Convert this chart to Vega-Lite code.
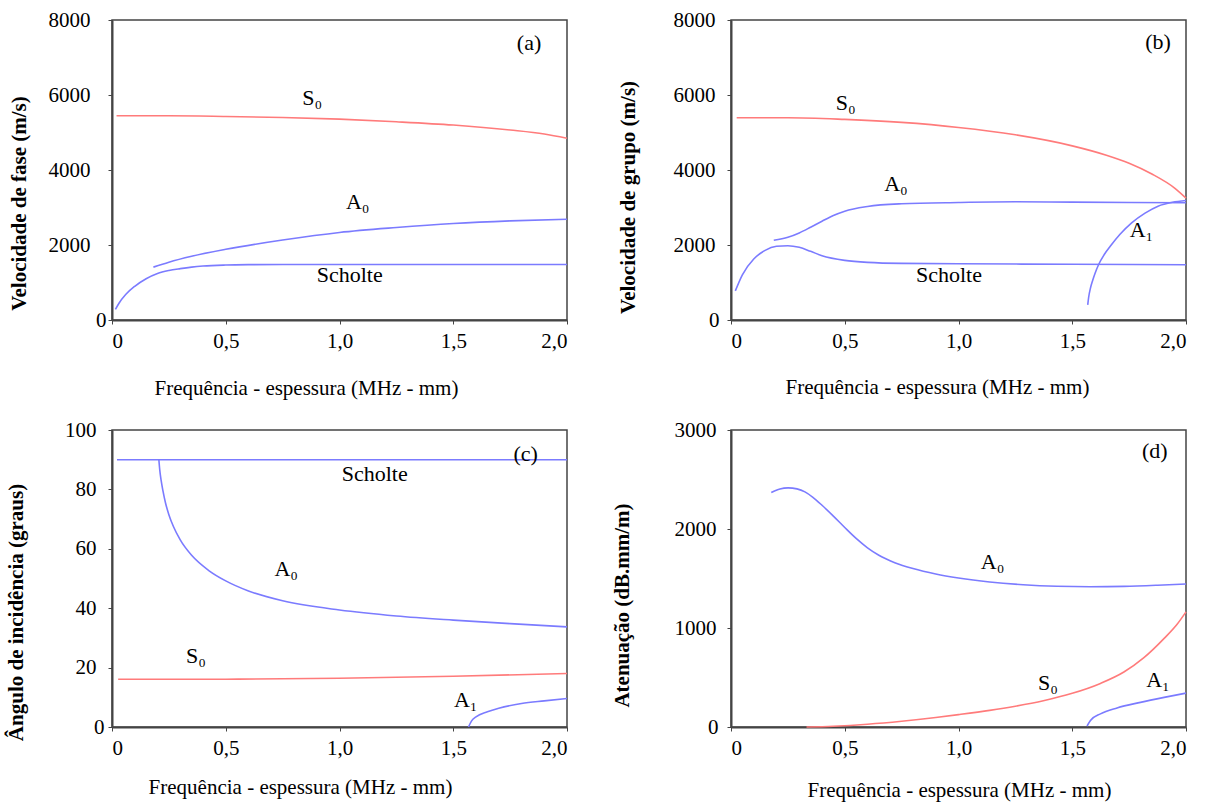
{
  "$schema": "https://vega.github.io/schema/vega-lite/v6.json",
  "background": "white",
  "padding": {"left": 4, "top": 8, "right": 5, "bottom": 5},
  "config": {
    "font": "Liberation Serif",
    "view": {"stroke": "#444444", "strokeWidth": 1.5},
    "axis": {
      "grid": false,
      "domainColor": "#444444",
      "domainWidth": 2,
      "tickColor": "#444444",
      "tickSize": 4,
      "labelFont": "Liberation Serif",
      "labelFontSize": 21,
      "labelColor": "black",
      "titleFont": "Liberation Serif",
      "titleFontSize": 21,
      "titleColor": "black"
    },
    "axisY": {"titleFontWeight": "bold", "titleBaseline": "middle", "labelBaseline": "middle"},
    "axisX": {"titleFontWeight": "normal", "titleBaseline": "middle", "labelPadding": 6}
  },
  "datasets": {
    "a": [
      {"s": "S0", "x": 0.02, "y": 5445}, {"s": "S0", "x": 0.25, "y": 5445}, {"s": "S0", "x": 0.5, "y": 5427}, {"s": "S0", "x": 0.75, "y": 5400}, {"s": "S0", "x": 1.0, "y": 5356}, {"s": "S0", "x": 1.25, "y": 5286}, {"s": "S0", "x": 1.5, "y": 5198}, {"s": "S0", "x": 1.75, "y": 5066}, {"s": "S0", "x": 1.9, "y": 4960}, {"s": "S0", "x": 2.0, "y": 4846},
      {"s": "A0", "x": 0.182, "y": 1410}, {"s": "A0", "x": 0.25, "y": 1542}, {"s": "A0", "x": 0.35, "y": 1700}, {"s": "A0", "x": 0.5, "y": 1885}, {"s": "A0", "x": 0.75, "y": 2132}, {"s": "A0", "x": 1.0, "y": 2335}, {"s": "A0", "x": 1.25, "y": 2467}, {"s": "A0", "x": 1.5, "y": 2573}, {"s": "A0", "x": 1.75, "y": 2643}, {"s": "A0", "x": 2.0, "y": 2687},
      {"s": "Scholte", "x": 0.015, "y": 282}, {"s": "Scholte", "x": 0.03, "y": 440}, {"s": "Scholte", "x": 0.06, "y": 678}, {"s": "Scholte", "x": 0.1, "y": 899}, {"s": "Scholte", "x": 0.15, "y": 1101}, {"s": "Scholte", "x": 0.2, "y": 1242}, {"s": "Scholte", "x": 0.25, "y": 1321}, {"s": "Scholte", "x": 0.3, "y": 1370}, {"s": "Scholte", "x": 0.35, "y": 1410}, {"s": "Scholte", "x": 0.4, "y": 1438}, {"s": "Scholte", "x": 0.5, "y": 1465}, {"s": "Scholte", "x": 0.6, "y": 1476}, {"s": "Scholte", "x": 0.75, "y": 1481}, {"s": "Scholte", "x": 1.0, "y": 1482}, {"s": "Scholte", "x": 2.0, "y": 1482}
    ],
    "b": [
      {"s": "S0", "x": 0.025, "y": 5394}, {"s": "S0", "x": 0.25, "y": 5394}, {"s": "S0", "x": 0.5, "y": 5349}, {"s": "S0", "x": 0.75, "y": 5269}, {"s": "S0", "x": 1.0, "y": 5135}, {"s": "S0", "x": 1.25, "y": 4938}, {"s": "S0", "x": 1.5, "y": 4644}, {"s": "S0", "x": 1.65, "y": 4394}, {"s": "S0", "x": 1.75, "y": 4179}, {"s": "S0", "x": 1.85, "y": 3893}, {"s": "S0", "x": 1.95, "y": 3518}, {"s": "S0", "x": 2.0, "y": 3251},
      {"s": "A0", "x": 0.188, "y": 2125}, {"s": "A0", "x": 0.25, "y": 2206}, {"s": "A0", "x": 0.3, "y": 2322}, {"s": "A0", "x": 0.35, "y": 2474}, {"s": "A0", "x": 0.4, "y": 2634}, {"s": "A0", "x": 0.45, "y": 2786}, {"s": "A0", "x": 0.5, "y": 2902}, {"s": "A0", "x": 0.6, "y": 3027}, {"s": "A0", "x": 0.75, "y": 3099}, {"s": "A0", "x": 1.0, "y": 3134}, {"s": "A0", "x": 1.25, "y": 3152}, {"s": "A0", "x": 1.5, "y": 3143}, {"s": "A0", "x": 2.0, "y": 3126},
      {"s": "Scholte", "x": 0.019, "y": 777}, {"s": "Scholte", "x": 0.05, "y": 1206}, {"s": "Scholte", "x": 0.1, "y": 1625}, {"s": "Scholte", "x": 0.15, "y": 1857}, {"s": "Scholte", "x": 0.2, "y": 1965}, {"s": "Scholte", "x": 0.25, "y": 1982}, {"s": "Scholte", "x": 0.3, "y": 1938}, {"s": "Scholte", "x": 0.35, "y": 1831}, {"s": "Scholte", "x": 0.4, "y": 1715}, {"s": "Scholte", "x": 0.5, "y": 1590}, {"s": "Scholte", "x": 0.6, "y": 1536}, {"s": "Scholte", "x": 0.75, "y": 1509}, {"s": "Scholte", "x": 1.0, "y": 1500}, {"s": "Scholte", "x": 1.5, "y": 1485}, {"s": "Scholte", "x": 2.0, "y": 1473},
      {"s": "A1", "x": 1.568, "y": 402}, {"s": "A1", "x": 1.572, "y": 600}, {"s": "A1", "x": 1.58, "y": 850}, {"s": "A1", "x": 1.59, "y": 1060}, {"s": "A1", "x": 1.6, "y": 1240}, {"s": "A1", "x": 1.616, "y": 1480}, {"s": "A1", "x": 1.64, "y": 1740}, {"s": "A1", "x": 1.667, "y": 1965}, {"s": "A1", "x": 1.71, "y": 2285}, {"s": "A1", "x": 1.761, "y": 2590}, {"s": "A1", "x": 1.82, "y": 2850}, {"s": "A1", "x": 1.877, "y": 3036}, {"s": "A1", "x": 1.94, "y": 3140}, {"s": "A1", "x": 2.0, "y": 3188}
    ],
    "c": [
      {"s": "Scholte", "x": 0.022, "y": 90}, {"s": "Scholte", "x": 2.0, "y": 90},
      {"s": "A0", "x": 0.206, "y": 90}, {"s": "A0", "x": 0.21, "y": 86.5}, {"s": "A0", "x": 0.216, "y": 83}, {"s": "A0", "x": 0.224, "y": 79.5}, {"s": "A0", "x": 0.235, "y": 75.5}, {"s": "A0", "x": 0.25, "y": 71.5}, {"s": "A0", "x": 0.27, "y": 67.5}, {"s": "A0", "x": 0.3, "y": 63}, {"s": "A0", "x": 0.35, "y": 57.8}, {"s": "A0", "x": 0.427, "y": 52.6}, {"s": "A0", "x": 0.5, "y": 49.2}, {"s": "A0", "x": 0.6, "y": 45.8}, {"s": "A0", "x": 0.75, "y": 42.5}, {"s": "A0", "x": 1.0, "y": 39.4}, {"s": "A0", "x": 1.25, "y": 37.4}, {"s": "A0", "x": 1.5, "y": 36.0}, {"s": "A0", "x": 1.75, "y": 34.8}, {"s": "A0", "x": 2.0, "y": 33.7},
      {"s": "S0", "x": 0.027, "y": 16.1}, {"s": "S0", "x": 0.5, "y": 16.1}, {"s": "S0", "x": 1.0, "y": 16.4}, {"s": "S0", "x": 1.5, "y": 17.1}, {"s": "S0", "x": 2.0, "y": 18.0},
      {"s": "A1", "x": 1.567, "y": 0}, {"s": "A1", "x": 1.58, "y": 2.0}, {"s": "A1", "x": 1.6, "y": 3.4}, {"s": "A1", "x": 1.65, "y": 5.1}, {"s": "A1", "x": 1.7, "y": 6.3}, {"s": "A1", "x": 1.8, "y": 7.9}, {"s": "A1", "x": 1.9, "y": 8.8}, {"s": "A1", "x": 2.0, "y": 9.6}
    ],
    "d": [
      {"s": "A0", "x": 0.177, "y": 2369}, {"s": "A0", "x": 0.215, "y": 2405}, {"s": "A0", "x": 0.251, "y": 2415}, {"s": "A0", "x": 0.29, "y": 2405}, {"s": "A0", "x": 0.325, "y": 2375}, {"s": "A0", "x": 0.36, "y": 2320}, {"s": "A0", "x": 0.4, "y": 2240}, {"s": "A0", "x": 0.45, "y": 2130}, {"s": "A0", "x": 0.5, "y": 2015}, {"s": "A0", "x": 0.55, "y": 1905}, {"s": "A0", "x": 0.6, "y": 1810}, {"s": "A0", "x": 0.65, "y": 1735}, {"s": "A0", "x": 0.72, "y": 1660}, {"s": "A0", "x": 0.8, "y": 1600}, {"s": "A0", "x": 0.9, "y": 1545}, {"s": "A0", "x": 1.0, "y": 1505}, {"s": "A0", "x": 1.137, "y": 1465}, {"s": "A0", "x": 1.284, "y": 1437}, {"s": "A0", "x": 1.432, "y": 1421}, {"s": "A0", "x": 1.579, "y": 1416}, {"s": "A0", "x": 1.727, "y": 1420}, {"s": "A0", "x": 1.875, "y": 1432}, {"s": "A0", "x": 2.0, "y": 1445},
      {"s": "S0", "x": 0.332, "y": 0}, {"s": "S0", "x": 0.45, "y": 8}, {"s": "S0", "x": 0.6, "y": 28}, {"s": "S0", "x": 0.75, "y": 58}, {"s": "S0", "x": 0.9, "y": 96}, {"s": "S0", "x": 1.0, "y": 125}, {"s": "S0", "x": 1.137, "y": 168}, {"s": "S0", "x": 1.25, "y": 210}, {"s": "S0", "x": 1.373, "y": 265}, {"s": "S0", "x": 1.5, "y": 340}, {"s": "S0", "x": 1.624, "y": 440}, {"s": "S0", "x": 1.727, "y": 555}, {"s": "S0", "x": 1.815, "y": 700}, {"s": "S0", "x": 1.904, "y": 895}, {"s": "S0", "x": 1.96, "y": 1035}, {"s": "S0", "x": 2.0, "y": 1163},
      {"s": "A1", "x": 1.565, "y": 10}, {"s": "A1", "x": 1.58, "y": 66}, {"s": "A1", "x": 1.624, "y": 133}, {"s": "A1", "x": 1.697, "y": 193}, {"s": "A1", "x": 1.8, "y": 249}, {"s": "A1", "x": 1.904, "y": 299}, {"s": "A1", "x": 2.0, "y": 342}
    ],
    "la": [
      {"t": "S₀", "x": 0.88, "y": 5920}, {"t": "A₀", "x": 1.08, "y": 3155}, {"t": "Scholte", "x": 1.045, "y": 1200}, {"t": "(a)", "x": 1.833, "y": 7400}
    ],
    "lb": [
      {"t": "S₀", "x": 0.504, "y": 5800}, {"t": "A₀", "x": 0.725, "y": 3627}, {"t": "A₁", "x": 1.804, "y": 2387}, {"t": "Scholte", "x": 0.958, "y": 1187}, {"t": "(b)", "x": 1.877, "y": 7413}
    ],
    "lc": [
      {"t": "Scholte", "x": 1.155, "y": 85.2}, {"t": "(c)", "x": 1.818, "y": 91.9}, {"t": "A₀", "x": 0.766, "y": 53.2}, {"t": "S₀", "x": 0.369, "y": 23.9}, {"t": "A₁", "x": 1.555, "y": 9.1}
    ],
    "ld": [
      {"t": "(d)", "x": 1.863, "y": 2788}, {"t": "A₀", "x": 1.15, "y": 1662}, {"t": "S₀", "x": 1.393, "y": 449}, {"t": "A₁", "x": 1.877, "y": 470}
    ]
  },
  "bounds": "flush",
  "columns": 2,
  "spacing": {"row": 110, "column": 164},
  "concat": [
    {
      "width": 455, "height": 300,
      "encoding": {
        "x": {"field": "x", "type": "quantitative", "scale": {"domain": [0, 2]},
          "axis": {"values": [0, 0.5, 1, 1.5, 2], "labelExpr": "datum.value == 0 ? '0' : replace(format(datum.value, '.1f'), '.', ',')", "title": "Frequência - espessura (MHz - mm)", "titleX": 194, "titleY": 68}},
        "y": {"field": "y", "type": "quantitative", "scale": {"domain": [0, 8000]},
          "axis": {"values": [0, 2000, 4000, 6000, 8000], "format": "d", "title": "Velocidade de fase (m/s)", "titleX": -93, "titleY": 183, "labelPadding": {"condition": {"test": "datum.value == 0", "value": 2}, "value": 18}}}
      },
      "layer": [
        {"data": {"name": "a"}, "mark": {"type": "line", "strokeWidth": 1.6, "interpolate": "monotone"},
          "encoding": {"color": {"field": "s", "type": "nominal", "scale": {"domain": ["S0", "A0", "A1", "Scholte"], "range": ["#ff7b7b", "#7b7bff", "#7b7bff", "#7b7bff"]}, "legend": null}, "detail": {"field": "s"}}},
        {"data": {"name": "la"}, "mark": {"type": "text", "fontSize": 22, "font": "Liberation Serif", "color": "black", "baseline": "middle"},
          "encoding": {"text": {"field": "t"}}}
      ]
    },
    {
      "width": 455, "height": 300,
      "encoding": {
        "x": {"field": "x", "type": "quantitative", "scale": {"domain": [0, 2]},
          "axis": {"values": [0, 0.5, 1, 1.5, 2], "labelExpr": "datum.value == 0 ? '0' : replace(format(datum.value, '.1f'), '.', ',')", "title": "Frequência - espessura (MHz - mm)", "titleX": 206, "titleY": 67}},
        "y": {"field": "y", "type": "quantitative", "scale": {"domain": [0, 8000]},
          "axis": {"values": [0, 2000, 4000, 6000, 8000], "format": "d", "title": "Velocidade de grupo (m/s)", "titleX": -103, "titleY": 177, "labelPadding": {"condition": {"test": "datum.value == 0", "value": 8}, "value": 12}}}
      },
      "layer": [
        {"data": {"name": "b"}, "mark": {"type": "line", "strokeWidth": 1.6, "interpolate": "monotone"},
          "encoding": {"color": {"field": "s", "type": "nominal", "scale": {"domain": ["S0", "A0", "A1", "Scholte"], "range": ["#ff7b7b", "#7b7bff", "#7b7bff", "#7b7bff"]}, "legend": null}, "detail": {"field": "s"}}},
        {"data": {"name": "lb"}, "mark": {"type": "text", "fontSize": 22, "font": "Liberation Serif", "color": "black", "baseline": "middle"},
          "encoding": {"text": {"field": "t"}}}
      ]
    },
    {
      "width": 455, "height": 297,
      "encoding": {
        "x": {"field": "x", "type": "quantitative", "scale": {"domain": [0, 2]},
          "axis": {"values": [0, 0.5, 1, 1.5, 2], "labelExpr": "datum.value == 0 ? '0' : replace(format(datum.value, '.1f'), '.', ',')", "title": "Frequência - espessura (MHz - mm)", "titleX": 188, "titleY": 60}},
        "y": {"field": "y", "type": "quantitative", "scale": {"domain": [0, 100]},
          "axis": {"values": [0, 20, 40, 60, 80, 100], "format": "d", "title": "Ângulo de incidência  (graus)", "titleX": -96, "titleY": 182, "labelPadding": {"condition": {"test": "datum.value == 0", "value": 4}, "value": 12}}}
      },
      "layer": [
        {"data": {"name": "c"}, "mark": {"type": "line", "strokeWidth": 1.6, "interpolate": "monotone"},
          "encoding": {"color": {"field": "s", "type": "nominal", "scale": {"domain": ["S0", "A0", "A1", "Scholte"], "range": ["#ff7b7b", "#7b7bff", "#7b7bff", "#7b7bff"]}, "legend": null}, "detail": {"field": "s"}}},
        {"data": {"name": "lc"}, "mark": {"type": "text", "fontSize": 22, "font": "Liberation Serif", "color": "black", "baseline": "middle"},
          "encoding": {"text": {"field": "t"}}}
      ]
    },
    {
      "width": 455, "height": 297,
      "encoding": {
        "x": {"field": "x", "type": "quantitative", "scale": {"domain": [0, 2]},
          "axis": {"values": [0, 0.5, 1, 1.5, 2], "labelExpr": "datum.value == 0 ? '0' : replace(format(datum.value, '.1f'), '.', ',')", "title": "Frequência - espessura (MHz - mm)", "titleX": 228, "titleY": 63}},
        "y": {"field": "y", "type": "quantitative", "scale": {"domain": [0, 3000]},
          "axis": {"values": [0, 1000, 2000, 3000], "format": "d", "title": "Atenuação (dB.mm/m)", "titleX": -109, "titleY": 175, "labelPadding": {"condition": {"test": "datum.value == 0", "value": 9}, "value": 11}}}
      },
      "layer": [
        {"data": {"name": "d"}, "mark": {"type": "line", "strokeWidth": 1.6, "interpolate": "monotone"},
          "encoding": {"color": {"field": "s", "type": "nominal", "scale": {"domain": ["S0", "A0", "A1", "Scholte"], "range": ["#ff7b7b", "#7b7bff", "#7b7bff", "#7b7bff"]}, "legend": null}, "detail": {"field": "s"}}},
        {"data": {"name": "ld"}, "mark": {"type": "text", "fontSize": 22, "font": "Liberation Serif", "color": "black", "baseline": "middle"},
          "encoding": {"text": {"field": "t"}}}
      ]
    }
  ]
}
